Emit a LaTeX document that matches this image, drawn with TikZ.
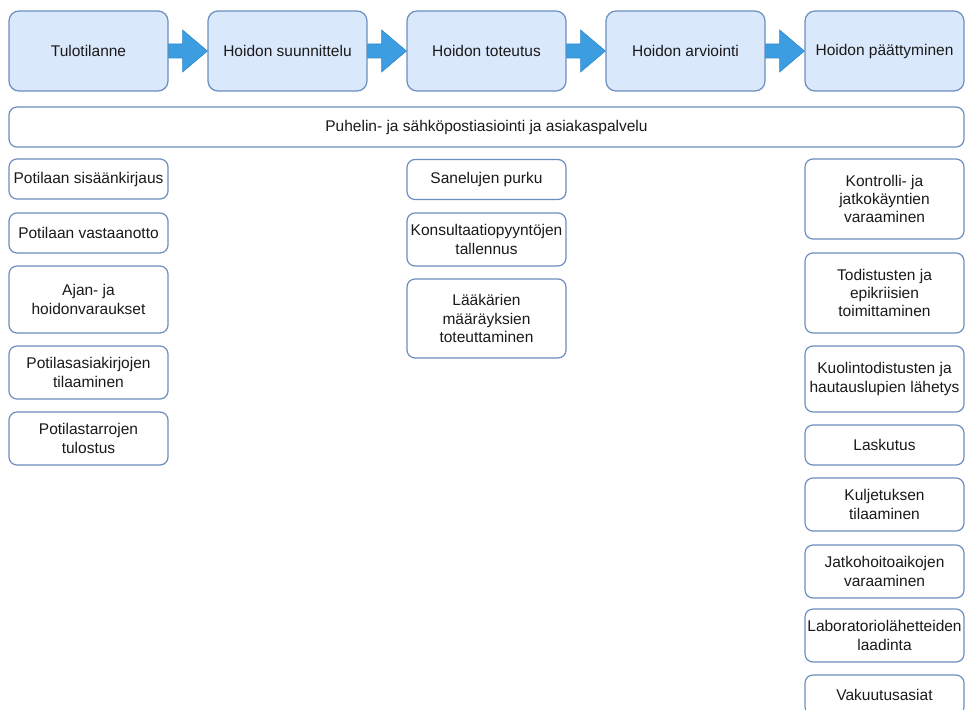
\documentclass[tikz,border=0pt]{standalone}
\usepackage{fontspec}
\setmainfont{Liberation Sans}
\usetikzlibrary{calc}
\definecolor{boxfill}{HTML}{DAE8FC}
\definecolor{boxline}{HTML}{6C8EBF}
\definecolor{arrfill}{RGB}{60,158,224}
\definecolor{arrline}{RGB}{48,135,205}
\definecolor{txt}{HTML}{1A1A1A}
\tikzset{
  phase/.style={draw=boxline, fill=boxfill, line width=1.2pt, rounded corners=10pt,
    minimum width=159pt, minimum height=80pt, inner sep=1pt, align=center,
    font=\fontsize{15.5}{18.3}\selectfont, text=txt},
  task/.style={draw=boxline, fill=white, line width=1.2pt, rounded corners=8pt,
    minimum width=159pt, inner sep=1pt, align=center,
    font=\fontsize{15.5}{18.3}\selectfont, text=txt},
  blockarrow/.style={fill=arrfill, draw=arrline, line width=0.6pt}
}
\newcommand{\blockarr}[2]{%
  \path[blockarrow] ($(#1.east)+(0,7)$) -- ($(#1.east)+(14,7)$) -- ($(#1.east)+(14,21)$)
    -- (#2.west) -- ($(#1.east)+(14,-21)$) -- ($(#1.east)+(14,-7)$) -- ($(#1.east)+(0,-7)$) -- cycle;}
\begin{document}
\begin{tikzpicture}[x=1pt,y=-1pt]
\useasboundingbox (0,0) rectangle (968,709);
\clip (0,0) rectangle (968,709);
% phases
\node[phase] (t1) at (88.5,51) {Tulotilanne};
\node[phase] (t2) at (287.5,51) {Hoidon suunnittelu};
\node[phase] (t3) at (486.5,51) {Hoidon toteutus};
\node[phase] (t4) at (685.5,51) {Hoidon arviointi};
\node[phase] (t5) at (884.5,51) {Hoidon päättyminen};
\blockarr{t1}{t2}
\blockarr{t2}{t3}
\blockarr{t3}{t4}
\blockarr{t4}{t5}
% wide
\node[task, minimum width=955pt, minimum height=40pt] (w) at (486.5,127) {Puhelin- ja sähköpostiasiointi ja asiakaspalvelu};
% left column
\node[task, minimum height=40pt] (l1) at (88.5,179) {Potilaan sisäänkirjaus};
\node[task, minimum height=40pt] (l2) at (88.5,233) {Potilaan vastaanotto};
\node[task, minimum height=67pt] (l3) at (88.5,299.5) {Ajan- ja\\hoidonvaraukset};
\node[task, minimum height=53pt] (l4) at (88.5,372.5) {Potilasasiakirjojen\\tilaaminen};
\node[task, minimum height=53pt] (l5) at (88.5,438.5) {Potilastarrojen\\tulostus};
% middle column
\node[task, minimum height=40pt] (m1) at (486.5,179.5) {Sanelujen purku};
\node[task, minimum height=53pt] (m2) at (486.5,239.5) {Konsultaatiopyyntöjen\\tallennus};
\node[task, minimum height=79pt] (m3) at (486.5,318.5) {Lääkärien\\määräyksien\\toteuttaminen};
% right column
\node[task, minimum height=80pt] (r1) at (884.5,199) {Kontrolli- ja\\jatkokäyntien\\varaaminen};
\node[task, minimum height=80pt] (r2) at (884.5,293) {Todistusten ja\\epikriisien\\toimittaminen};
\node[task, minimum height=66pt] (r3) at (884.5,379) {Kuolintodistusten ja\\hautauslupien lähetys};
\node[task, minimum height=40pt] (r4) at (884.5,445) {Laskutus};
\node[task, minimum height=53pt] (r5) at (884.5,504.5) {Kuljetuksen\\tilaaminen};
\node[task, minimum height=53pt] (r6) at (884.5,571.5) {Jatkohoitoaikojen\\varaaminen};
\node[task, minimum height=53pt] (r7) at (884.5,635.5) {Laboratoriolähetteiden\\laadinta};
\node[task, minimum height=40pt] (r8) at (884.5,695) {Vakuutusasiat};
\end{tikzpicture}
\end{document}
